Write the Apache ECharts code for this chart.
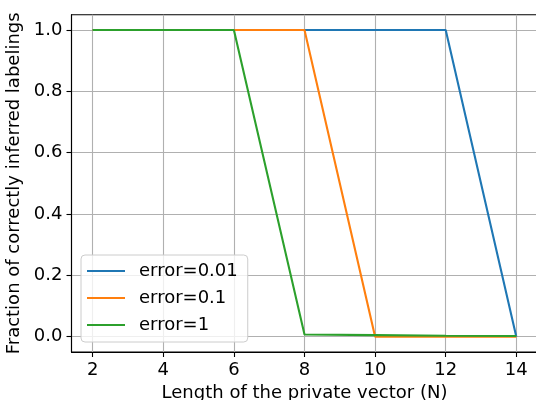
<!DOCTYPE html>
<html>
<head>
<meta charset="utf-8">
<script src="https://cdn.jsdelivr.net/npm/echarts@6/dist/echarts.min.js"></script>
<style>html,body{margin:0;padding:0;background:#fff;}#c{width:536px;height:400px;}</style>
</head>
<body>
<div id="c"></div>
<script>
const xValues = [2, 4, 6, 8, 10, 12, 14];
const seriesNames = ['error=0.01', 'error=0.1', 'error=1'];
const blueValues = [1, 1, 1, 1, 1, 1, 0];
const orangeValues = [1, 1, 1, 1, 0, 0, 0];
const greenValues = [1, 1, 1, 0.007, 0.005, 0.003, 0.002];
const xTicks = [2, 4, 6, 8, 10, 12, 14];
const yTicks = [0, 0.2, 0.4, 0.6, 0.8, 1.0];
const xTitle = 'Length of the private vector (N)';
const yTitle = 'Fraction of correctly inferred labelings';

const colors = ['#1f77b4', '#ff7f0e', '#2ca02c'];
const font = 'DejaVu Sans';
const chart = echarts.init(document.getElementById('c'), null, {renderer: 'canvas'});
const pair = v => xValues.map((x, i) => [x, v[i]]);
const allValues = [blueValues, orangeValues, greenValues];

chart.setOption({
  animation: false,
  color: colors,
  grid: {left: 71.5, top: 14.7, right: -1.5, bottom: 48, show: true, borderColor: '#000', borderWidth: 1.1, backgroundColor: 'transparent', containLabel: false, outerBoundsMode: 'none'},
  legend: {
    orient: 'vertical', left: 81, top: 255,
    data: seriesNames.map(n => ({name: n, icon: 'rect'})),
    itemWidth: 38, itemHeight: 2, itemGap: 9,
    padding: [7, 10, 8, 6],
    backgroundColor: 'rgba(255,255,255,0.8)', borderColor: '#cccccc', borderWidth: 1, borderRadius: 4,
    textStyle: {fontFamily: font, fontSize: 18, color: '#000', lineHeight: 18, padding: [0, 0, 0, 9]}
  },
  xAxis: {
    type: 'value', min: 1.4, max: 14.6,
    name: xTitle, nameLocation: 'middle', nameGap: 30,
    nameTextStyle: {fontFamily: font, fontSize: 18, color: '#000'},
    axisLine: {show: true, onZero: false, lineStyle: {color: '#000', width: 1.1}},
    axisTick: {show: true, length: 5, customValues: xTicks, lineStyle: {color: '#000', width: 1.1}},
    axisLabel: {customValues: xTicks, fontFamily: font, fontSize: 18, color: '#000', margin: 9, formatter: v => String(v)},
    splitLine: {show: true, lineStyle: {color: '#b0b0b0', width: 1.1}}
  },
  yAxis: {
    type: 'value', min: -0.05, max: 1.05,
    name: yTitle, nameLocation: 'middle', nameGap: 48, nameRotate: 90,
    nameTextStyle: {fontFamily: font, fontSize: 18, color: '#000'},
    axisLine: {show: true, onZero: false, lineStyle: {color: '#000', width: 1.1}},
    axisTick: {show: true, length: 5, customValues: yTicks, lineStyle: {color: '#000', width: 1.1}},
    axisLabel: {customValues: yTicks, fontFamily: font, fontSize: 18, color: '#000', margin: 9, formatter: v => v.toFixed(1)},
    splitLine: {show: true, lineStyle: {color: '#b0b0b0', width: 1.1}}
  },
  series: seriesNames.map((n, i) => ({
    name: n, type: 'line', data: pair(allValues[i]),
    showSymbol: false, symbol: 'none',
    lineStyle: {width: 2.1, color: colors[i]}, z: 3 + i
  }))
});
</script>
</body>
</html>
